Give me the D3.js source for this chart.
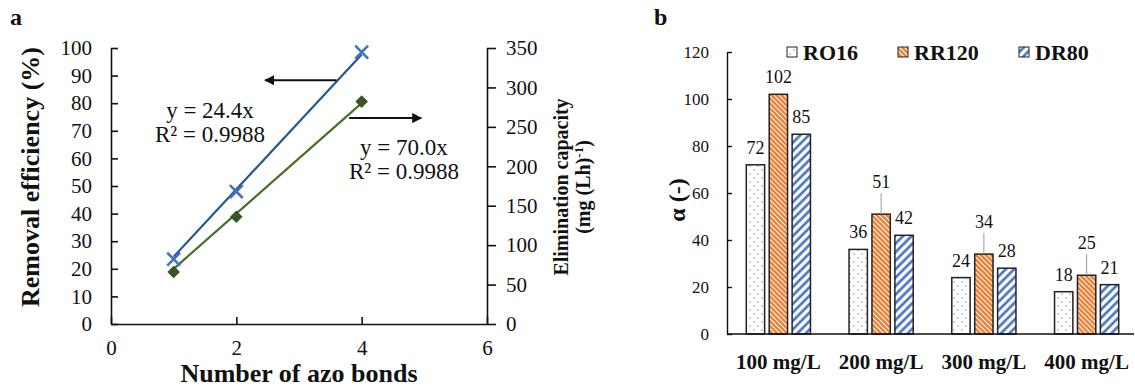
<!DOCTYPE html>
<html>
<head>
<meta charset="utf-8">
<script src="https://cdn.jsdelivr.net/npm/d3@7"></script>
<style>
  body { margin: 0; background: #fff; }
  svg text { font-family: "Liberation Serif", "Times New Roman", serif; fill: #111; }
</style>
</head>
<body>
<div id="chart"></div>
<script>
// Panel a data
const azoBonds = [1, 2, 4];
const removalEff = [23.5, 48, 98.5];     // %
const elimCap = [66, 136, 282];          // mg (Lh)^-1
const fitRE = {slope: 24.4, r2: "0.9988"};
const fitEC = {slope: 70.0, r2: "0.9988"};

// Panel b data
const concentrations = ["100 mg/L", "200 mg/L", "300 mg/L", "400 mg/L"];
const dyes = ["RO16", "RR120", "DR80"];
const ro16 = [72, 36, 24, 18];
const rr120 = [102, 51, 34, 25];
const dr80 = [85, 42, 28, 21];

const W = 1135, H = 390;
const svg = d3.select("#chart").append("svg")
  .attr("width", W).attr("height", H)
  .attr("font-family", "Liberation Serif, serif");

// patterns for bars
const defs = svg.append("defs");
const pDots = defs.append("pattern").attr("id", "pDots")
  .attr("patternUnits", "userSpaceOnUse").attr("width", 8).attr("height", 8);
pDots.append("rect").attr("width", 8).attr("height", 8).attr("fill", "#fff");
pDots.append("circle").attr("cx", 2).attr("cy", 2).attr("r", 0.7).attr("fill", "#777");
pDots.append("circle").attr("cx", 6).attr("cy", 6).attr("r", 0.7).attr("fill", "#777");

const pOrange = defs.append("pattern").attr("id", "pOrange")
  .attr("patternUnits", "userSpaceOnUse").attr("width", 3.5).attr("height", 3.5)
  .attr("patternTransform", "rotate(-45)");
pOrange.append("rect").attr("width", 3.5).attr("height", 3.5).attr("fill", "#ED7D31");
pOrange.append("line").attr("x1", 0.5).attr("x2", 0.5).attr("y1", 0).attr("y2", 3.5)
  .attr("stroke", "#fff").attr("stroke-width", 1.1);

const pBlue = defs.append("pattern").attr("id", "pBlue")
  .attr("patternUnits", "userSpaceOnUse").attr("width", 6).attr("height", 6)
  .attr("patternTransform", "rotate(45)");
pBlue.append("rect").attr("width", 6).attr("height", 6).attr("fill", "#fff");
pBlue.append("line").attr("x1", 1.5).attr("x2", 1.5).attr("y1", 0).attr("y2", 6)
  .attr("stroke", "#4472C4").attr("stroke-width", 2.6);

const fills = {RO16: "url(#pDots)", RR120: "url(#pOrange)", DR80: "url(#pBlue)"};

// ---------------- Panel a ----------------
const xA = d3.scaleLinear().domain([0, 6]).range([111, 487]);
const yL = d3.scaleLinear().domain([0, 100]).range([324, 48]);
const yR = d3.scaleLinear().domain([0, 350]).range([324, 48]);

svg.append("text").attr("x", 10).attr("y", 25)
  .attr("font-size", 24).attr("font-weight", "bold").text("a");

const axL = svg.append("g").attr("transform", "translate(111,0)")
  .call(d3.axisLeft(yL).tickValues(d3.range(0, 101, 10)).tickSizeInner(-7).tickSizeOuter(0).tickPadding(19));
const axR = svg.append("g").attr("transform", "translate(487,0)")
  .call(d3.axisRight(yR).tickValues(d3.range(0, 351, 50)).tickSizeInner(9).tickSizeOuter(0).tickPadding(10));
const axX = svg.append("g").attr("transform", "translate(0,324)")
  .call(d3.axisBottom(xA).tickValues([0, 2, 4, 6]).tickFormat(d3.format("d"))
    .tickSizeInner(-7).tickSizeOuter(0).tickPadding(16));
[axL, axR, axX].forEach(g => {
  g.attr("font-family", null);
  g.select(".domain").attr("stroke", "#111").attr("stroke-width", 1.6);
  g.selectAll(".tick line").attr("stroke", "#111").attr("stroke-width", 1.6);
  g.selectAll("text").attr("font-size", 21).attr("fill", "#111");
});

// trend lines
const line = d3.line().x(d => d[0]).y(d => d[1]);
const xEnds = [1, 4];
svg.append("path")
  .attr("d", line(xEnds.map(x => [xA(x), yL(fitRE.slope * x)])))
  .attr("fill", "none").attr("stroke", "#26578A").attr("stroke-width", 2.2);
svg.append("path")
  .attr("d", line(xEnds.map(x => [xA(x), yR(fitEC.slope * x)])))
  .attr("fill", "none").attr("stroke", "#47702A").attr("stroke-width", 2.2);

// markers
const cross = d3.symbol().type(d3.symbolX).size(110);
svg.append("g").selectAll("path").data(azoBonds).join("path")
  .attr("transform", (d, i) => `translate(${xA(d)},${yL(removalEff[i])})`)
  .attr("d", cross).attr("fill", "none")
  .attr("stroke", "#4472C4").attr("stroke-width", 2.6);
const diamond = d3.symbol().type(d3.symbolDiamond2).size(100);
svg.append("g").selectAll("path").data(azoBonds).join("path")
  .attr("transform", (d, i) => `translate(${xA(d)},${yR(elimCap[i])})`)
  .attr("d", diamond).attr("fill", "#375623");

// equations
const eq = (x, y, fit) => {
  const t = svg.append("text").attr("x", x).attr("y", y)
    .attr("font-size", 23).attr("text-anchor", "middle");
  t.append("tspan").attr("x", x).text(`y = ${fit.slope.toFixed(1)}x`);
  t.append("tspan").attr("x", x).attr("dy", 24).text(`R² = ${fit.r2}`);
};
eq(xA(1.58), yL(74.6), fitRE);
eq(xA(4.675), yL(61.2), fitEC);

// arrows
defs.append("marker").attr("id", "arr").attr("viewBox", "0 0 10 10")
  .attr("refX", 9).attr("refY", 5).attr("markerWidth", 5).attr("markerHeight", 5)
  .attr("orient", "auto-start-reverse")
  .append("path").attr("d", "M0,0L10,5L0,10Z").attr("fill", "#111");
svg.append("line").attr("x1", xA(3.6)).attr("x2", xA(2.46))
  .attr("y1", yL(88.3)).attr("y2", yL(88.3))
  .attr("stroke", "#111").attr("stroke-width", 2).attr("marker-end", "url(#arr)");
svg.append("line").attr("x1", xA(3.8)).attr("x2", xA(4.95))
  .attr("y1", yL(74.6)).attr("y2", yL(74.6))
  .attr("stroke", "#111").attr("stroke-width", 2).attr("marker-end", "url(#arr)");

// axis titles
svg.append("text").attr("transform", "translate(39,177) rotate(-90)")
  .attr("text-anchor", "middle").attr("font-size", 26).attr("font-weight", "bold")
  .text("Removal efficiency (%)");
const rt = svg.append("text").attr("transform", "translate(568,187) rotate(-90)")
  .attr("text-anchor", "middle").attr("font-size", 20).attr("font-weight", "bold");
rt.append("tspan").attr("x", 0).text("Elimination capacity");
const rt2 = rt.append("tspan").attr("x", 0).attr("dy", 22);
rt2.append("tspan").text("(mg (Lh)");
rt2.append("tspan").attr("dy", -7).attr("font-size", 13).text("-1");
rt2.append("tspan").attr("dy", 7).text(")");
svg.append("text").attr("x", 299).attr("y", 382)
  .attr("text-anchor", "middle").attr("font-size", 26).attr("font-weight", "bold")
  .text("Number of azo bonds");

// ---------------- Panel b ----------------
const seriesB = [ro16, rr120, dr80];
const xB = d3.scaleBand().domain(concentrations).range([727, 1138]).padding(0);
const xIn = d3.scaleBand().domain(dyes).range([17, xB.bandwidth() - 17])
  .paddingInner(0.2).paddingOuter(0.1);
const yB = d3.scaleLinear().domain([0, 120]).range([334, 52]);

svg.append("text").attr("x", 654).attr("y", 25)
  .attr("font-size", 24).attr("font-weight", "bold").text("b");

const axB = svg.append("g").attr("transform", "translate(727,0)")
  .call(d3.axisLeft(yB).tickValues(d3.range(0, 121, 20)).tickSizeInner(-5).tickSizeOuter(0).tickPadding(18));
axB.attr("font-family", null);
axB.select(".domain").attr("stroke", "#111").attr("stroke-width", 1.4);
axB.selectAll(".tick line").attr("stroke", "#111").attr("stroke-width", 1.4);
axB.selectAll("text").attr("font-size", 17).attr("fill", "#111");

const bars = svg.append("g");
concentrations.forEach((c, i) => {
  dyes.forEach((dye, j) => {
    const v = seriesB[j][i];
    const bx = xB(c) + xIn(dye);
    bars.append("rect")
      .attr("x", bx).attr("y", yB(v))
      .attr("width", xIn.bandwidth()).attr("height", yB(0) - yB(v))
      .attr("fill", fills[dye]).attr("stroke", "#222").attr("stroke-width", 1.5);
    // RR120 labels of lower groups are lifted with a leader line
    const lifted = dye === "RR120" && i > 0;
    const ly = yB(v) - (lifted ? 26 : 11);
    if (lifted) {
      bars.append("line")
        .attr("x1", bx + xIn.bandwidth() / 2).attr("x2", bx + xIn.bandwidth() / 2)
        .attr("y1", ly + 5).attr("y2", yB(v))
        .attr("stroke", "#999").attr("stroke-width", 1);
    }
    bars.append("text").attr("x", bx + xIn.bandwidth() / 2).attr("y", ly)
      .attr("text-anchor", "middle").attr("font-size", 18).text(v);
  });
});

// baseline drawn after bars
svg.append("line").attr("x1", 727).attr("x2", 1134)
  .attr("y1", yB(0)).attr("y2", yB(0)).attr("stroke", "#111").attr("stroke-width", 1.4);

// category labels
svg.append("g").selectAll("text").data(concentrations).join("text")
  .attr("x", d => xB(d) + xB.bandwidth() / 2).attr("y", 369)
  .attr("text-anchor", "middle").attr("font-size", 21).attr("font-weight", "bold")
  .text(d => d);

// y title
svg.append("text").attr("transform", "translate(685,200) rotate(-90)")
  .attr("text-anchor", "middle").attr("font-size", 24).attr("font-weight", "bold")
  .text("α (-)");

// legend
const legX = [787, 898, 1019];
dyes.forEach((dye, j) => {
  svg.append("rect").attr("x", legX[j]).attr("y", 47).attr("width", 10).attr("height", 10)
    .attr("fill", fills[dye]).attr("stroke", "#222").attr("stroke-width", 1);
  svg.append("text").attr("x", legX[j] + 16).attr("y", 60)
    .attr("font-size", 22).attr("font-weight", "bold").text(dye);
});
</script>
</body>
</html>
